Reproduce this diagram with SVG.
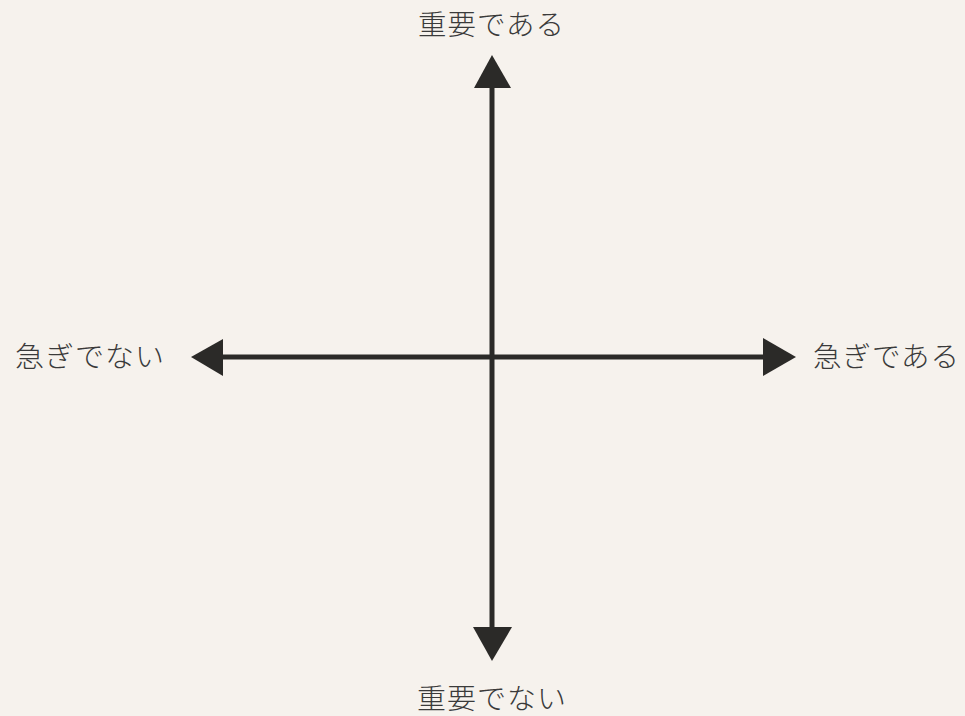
<svg xmlns="http://www.w3.org/2000/svg" width="965" height="716" viewBox="0 0 965 716">
  <defs>
    <style>
      .lbl { font-family: "Noto Sans CJK JP", "Noto Sans CJK SC", sans-serif; font-size: 28px; font-weight: 300; fill: #3a3a3a; letter-spacing: 1px; }
      .axis { stroke: #2b2a28; stroke-width: 5; fill: none; }
      .head { fill: #2b2a28; }
    </style>
  </defs>
  <rect x="0" y="0" width="965" height="716" fill="#f6f2ed"/>
  <g id="connectors">
    <line class="axis" x1="492" y1="80" x2="492" y2="632"/>
    <line class="axis" x1="218" y1="357" x2="768" y2="357"/>
    <polygon class="head" points="492,55 474,88 511,88"/>
    <polygon class="head" points="492,661 473,627 512,627"/>
    <polygon class="head" points="191,357 223,339 223,376"/>
    <polygon class="head" points="796,357 763,338 763,376"/>
  </g>
  <g id="top">
    <text class="lbl" x="418" y="35" textLength="147" lengthAdjust="spacingAndGlyphs">重要である</text>
  </g>
  <g id="bottom">
    <text class="lbl" x="417" y="709" textLength="150" lengthAdjust="spacingAndGlyphs">重要でない</text>
  </g>
  <g id="left">
    <text class="lbl" x="15" y="367" textLength="150" lengthAdjust="spacingAndGlyphs">急ぎでない</text>
  </g>
  <g id="right">
    <text class="lbl" x="813" y="367" textLength="147" lengthAdjust="spacingAndGlyphs">急ぎである</text>
  </g>
</svg>
